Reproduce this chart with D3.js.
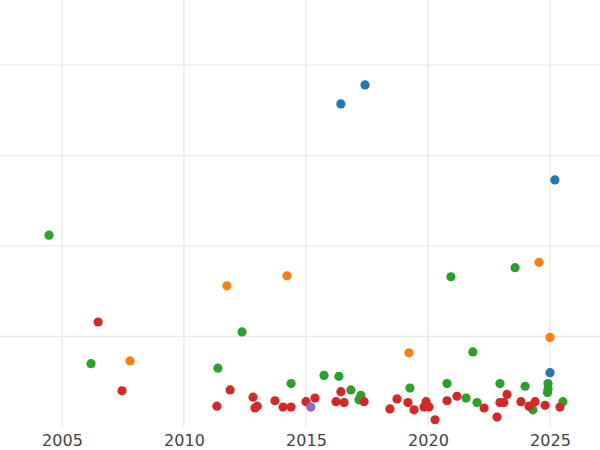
<!DOCTYPE html>
<html><head><meta charset="utf-8">
<script src="https://cdn.jsdelivr.net/npm/d3@7"></script>
<style>body{margin:0;background:#fff}</style>
</head><body>
<svg id="chart"></svg>
<script>
const blueYears = [2016.43, 2017.42, 2025.2, 2025.0];
const blueVals = [3.57, 3.78, 2.73, 0.60];
const greenYears = [2004.47, 2006.19, 2012.38, 2011.39, 2014.39, 2015.74, 2016.35, 2016.84, 2017.25, 2017.17, 2019.26, 2020.78, 2020.94, 2021.56, 2021.84, 2022.01, 2022.95, 2023.57, 2023.98, 2024.30, 2024.92, 2024.92, 2024.90, 2025.53];
const greenVals = [2.12, 0.70, 1.05, 0.65, 0.48, 0.57, 0.56, 0.41, 0.35, 0.30, 0.43, 0.48, 1.66, 0.32, 0.83, 0.27, 0.48, 1.76, 0.45, 0.19, 0.48, 0.42, 0.38, 0.28];
const orangeYears = [2007.79, 2011.76, 2014.22, 2019.22, 2024.55, 2025.0];
const orangeVals = [0.73, 1.56, 1.67, 0.82, 1.82, 0.99];
const purpleYears = [2015.2];
const purpleVals = [0.22];
const redYears = [2006.48, 2007.46, 2011.35, 2011.89, 2012.83, 2012.91, 2013.0, 2013.73, 2014.06, 2014.39, 2015.0, 2015.37, 2016.23, 2016.43, 2016.56, 2017.38, 2018.44, 2018.73, 2019.18, 2019.43, 2019.84, 2019.92, 2020.04, 2020.29, 2020.78, 2021.19, 2022.30, 2022.83, 2022.95, 2023.11, 2023.24, 2023.81, 2024.14, 2024.39, 2024.80, 2025.41];
const redVals = [1.16, 0.40, 0.23, 0.41, 0.33, 0.21, 0.23, 0.29, 0.22, 0.22, 0.28, 0.32, 0.28, 0.39, 0.27, 0.28, 0.20, 0.31, 0.27, 0.19, 0.22, 0.28, 0.22, 0.08, 0.29, 0.34, 0.21, 0.11, 0.27, 0.27, 0.36, 0.28, 0.23, 0.28, 0.24, 0.22];
const xTicks = [2005, 2010, 2015, 2020, 2025];
const yTicks = [1, 2, 3, 4];

const series = [
  { years: blueYears, vals: blueVals, color: '#1f77b4' },
  { years: orangeYears, vals: orangeVals, color: '#ff7f0e' },
  { years: greenYears, vals: greenVals, color: '#2ca02c' },
  { years: redYears, vals: redVals, color: '#d62728' },
  { years: purpleYears, vals: purpleVals, color: '#9467bd' }
];

const W = 600, H = 450, bottom = 427;
const svg = d3.select('#chart').attr('width', W).attr('height', H);

const x = d3.scaleLinear().domain([2002.46, 2027.05]).range([0, W]);
const y = d3.scaleLinear().domain([0, 4.718]).range([bottom, 0]);

svg.append('g').selectAll('line.h').data(yTicks).enter().append('line')
  .attr('x1', 0).attr('x2', W).attr('y1', d => y(d)).attr('y2', d => y(d))
  .attr('stroke', '#ebebeb').attr('stroke-width', 1.5);
svg.append('g').selectAll('line.v').data(xTicks).enter().append('line')
  .attr('y1', 0).attr('y2', bottom).attr('x1', d => x(d)).attr('x2', d => x(d))
  .attr('stroke', '#ebebeb').attr('stroke-width', 1.5);

const ax = svg.append('g').attr('transform', `translate(0,${bottom})`)
  .call(d3.axisBottom(x).tickValues(xTicks).tickFormat(d3.format('d')).tickSize(0).tickPadding(8));
ax.select('.domain').remove();
ax.selectAll('text').attr('font-family', 'DejaVu Sans, sans-serif').attr('font-size', 16).attr('fill', '#444');

for (const s of series) {
  svg.append('g').selectAll('circle').data(s.years.map((yr, i) => [yr, s.vals[i]]))
    .enter().append('circle')
    .attr('cx', d => x(d[0])).attr('cy', d => y(d[1])).attr('r', 4.6)
    .attr('fill', s.color);
}
</script>
</body></html>
